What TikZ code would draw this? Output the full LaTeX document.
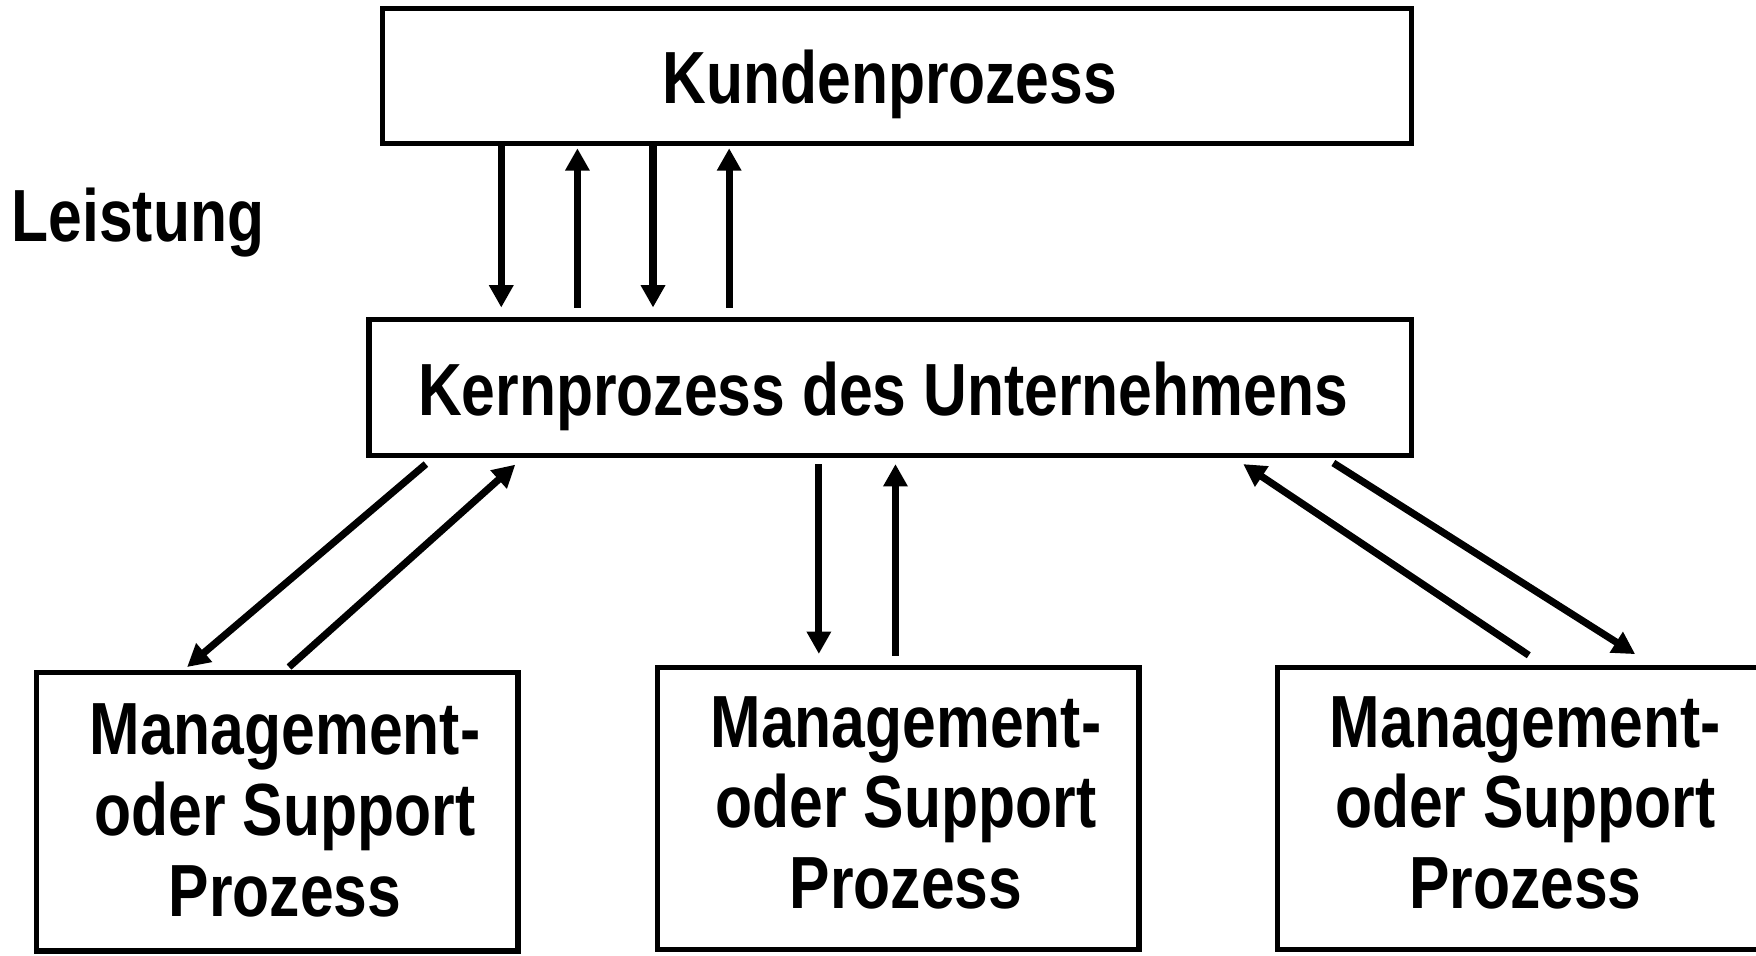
\documentclass[tikz,border=0pt]{standalone}
\usepackage{fontspec}
\setmainfont{Liberation Sans}[FakeStretch=0.82]
\usetikzlibrary{arrows.meta,calc}
\newcommand\lowstrut[1]{\rule[-#1]{0pt}{0pt}}
\begin{document}
\begin{tikzpicture}[x=0.5pt,y=-0.5pt,
  box/.style={draw,line width=2.4pt,inner sep=0pt,align=center,
    font=\bfseries\fontsize{33}{36}\selectfont},
  subbox/.style={box,minimum width=215pt,minimum height=126pt},
  flow/.style={line width=3.2pt,-{Triangle[width=10.4pt,length=10pt]}}]
\useasboundingbox (0,0) rectangle (1568,853);

% process boxes
\node[box,minimum width=459.5pt,minimum height=60.25pt,
  text height=24.25pt,text depth=0pt] (kunde) at (801,67.75)
  {Kundenprozess\hspace*{6.5pt}};
\node[box,minimum width=465.5pt,minimum height=60.5pt,
  text height=25pt,text depth=0pt] (kern) at (795,346)
  {Kernprozess des Unternehmens\hspace*{6.5pt}};
\node[subbox,minimum height=124.25pt] (ms1) at (247.5,724.75)
  {\hspace*{7pt}Management-\\\hspace*{7pt}oder Support\\\hspace*{7pt}Prozess\lowstrut{1.35pt}};
\node[subbox] (ms2) at (802,722)
  {\hspace*{7pt}Management-\\\hspace*{7pt}oder Support\\\hspace*{7pt}Prozess\lowstrut{5.6pt}};
\node[subbox,minimum width=220pt] (ms3) at (1360.5,722)
  {\hspace*{1.5pt}Management-\\\hspace*{1.5pt}oder Support\\\hspace*{1.5pt}Prozess\lowstrut{5.6pt}};

% side label
\node[anchor=base west,inner sep=0pt,font=\bfseries\fontsize{33}{36}\selectfont]
  (leistung) at (10,216) {Leistung};

% exchange between customer process and core process
\draw[flow] ($(kunde.south west)+(108.5,0)$) -- ($(kern.north west)+(120.5,-8.5)$);
\draw[flow] ($(kern.north west)+(188.5,-8.5)$) -- ($(kunde.south west)+(176.5,2)$);
\draw[flow] ($(kunde.south west)+(244,0)$) -- ($(kern.north west)+(256,-8.5)$);
\draw[flow] ($(kern.north west)+(324,-8.5)$) -- ($(kunde.south west)+(312,2)$);

% exchange between core process and management/support processes
\draw[flow] ($(kern.south west)+(53.2,5.5)$) -- ($(ms1.north west)+(137,-2.5)$);
\draw[flow] ($(ms1.north west)+(228,-2.5)$) -- ($(kern.south west)+(133,6)$);
\draw[flow] ($(kern.south west)+(404.1,5.5)$) -- ($(ms2.north west)+(146.6,-9.7)$);
\draw[flow] ($(ms2.north west)+(215,-8.2)$) -- ($(kern.south west)+(472.5,5.5)$);
\draw[flow] ($(ms3.north west)+(227,-8.5)$) -- ($(kern.south west)+(783,5.5)$);
\draw[flow] ($(kern.south west)+(863.5,4.5)$) -- ($(ms3.north west)+(322,-9.5)$);
\end{tikzpicture}
\end{document}
